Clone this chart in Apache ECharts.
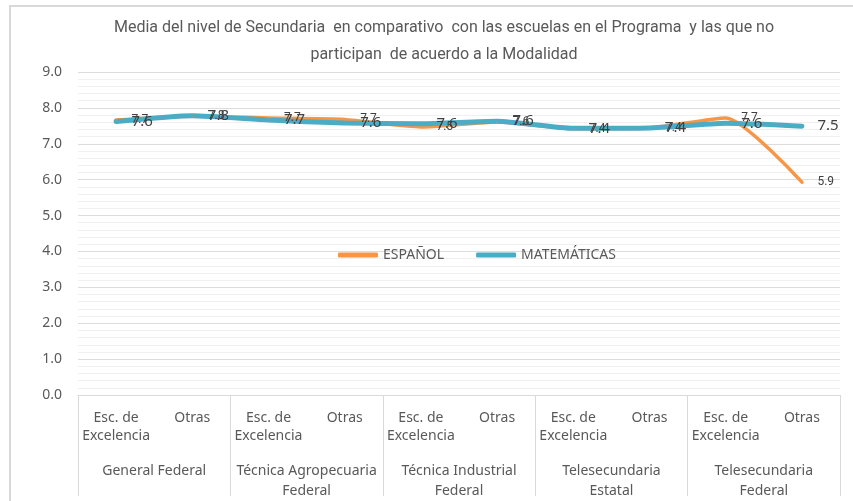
<!DOCTYPE html>
<html lang="es">
<head>
<meta charset="UTF-8">
<title>Media del nivel de Secundaria</title>
<script src="https://cdn.jsdelivr.net/npm/echarts@6/dist/echarts.min.js"></script>
<style>
  html, body { margin: 0; padding: 0; background: #fff; }
  #main { width: 853px; height: 501px; }
</style>
</head>
<body>
<div id="main"></div>
<script type="text/javascript">
// datos
var tipos = ['Esc. de\nExcelencia', 'Otras', 'Esc. de\nExcelencia', 'Otras', 'Esc. de\nExcelencia', 'Otras',
             'Esc. de\nExcelencia', 'Otras', 'Esc. de\nExcelencia', 'Otras'];
var modalidades = ['General Federal', 'Técnica Agropecuaria\nFederal', 'Técnica Industrial\nFederal',
                   'Telesecundaria\nEstatal', 'Telesecundaria\nFederal'];
var espanol = [7.66, 7.77, 7.72, 7.68, 7.47, 7.61, 7.42, 7.44, 7.72, 5.93];
var matematicas = [7.62, 7.78, 7.66, 7.58, 7.56, 7.63, 7.43, 7.44, 7.57, 7.49];

var gris = '#595959';
var narrow = "Roboto, sans-serif";

var myChart = echarts.init(document.getElementById('main'));

var option = {
    animation: false,
    title: {
        text: 'Media del nivel de Secundaria  en comparativo  con las escuelas en el Programa  y las que no\nparticipan  de acuerdo a la Modalidad',
        left: 439,
        top: 9,
        textAlign: 'center',
        textStyle: { fontFamily: narrow, fontSize: 16, fontWeight: 'normal', color: gris, lineHeight: 27 }
    },
    legend: {
        data: ['ESPAÑOL', 'MATEMÁTICAS'],
        left: 333,
        top: 243,
        icon: 'roundRect',
        itemWidth: 40,
        itemHeight: 5,
        itemGap: 32,
        textStyle: { fontFamily: 'Noto Sans', fontSize: 14, color: gris }
    },
    grid: { left: 78, right: 13, top: 72, bottom: 101 },
    xAxis: [
        {
            type: 'category',
            data: tipos,
            boundaryGap: true,
            axisLine: { lineStyle: { color: '#d9d9d9', width: 1 } },
            axisTick: { show: false },
            axisLabel: { interval: 0, margin: 14, lineHeight: 18, fontFamily: 'Noto Sans', fontSize: 14, color: gris }
        },
        {
            type: 'category',
            data: modalidades,
            position: 'bottom',
            boundaryGap: true,
            axisLine: { show: false },
            axisTick: { show: true, length: 101, lineStyle: { color: '#d9d9d9' } },
            axisLabel: { interval: 0, margin: 66, lineHeight: 20, fontFamily: 'Noto Sans', fontSize: 14, color: gris }
        }
    ],
    yAxis: {
        type: 'value',
        min: 0,
        max: 9,
        interval: 1,
        axisLine: { show: false },
        axisTick: { show: false },
        axisLabel: {
            margin: 16,
            fontFamily: 'Noto Sans', fontSize: 14, color: gris,
            formatter: function (v) { return v.toFixed(1); }
        },
        splitLine: { lineStyle: { color: '#dcdcdc', width: 1 } },
        minorTick: { show: false, splitNumber: 5 },
        minorSplitLine: { show: true, lineStyle: { color: '#f0f0f0', width: 1 } }
    },
    series: [
        {
            name: 'ESPAÑOL',
            type: 'line',
            data: espanol,
            smooth: 0.2,
            symbol: 'circle',
            symbolSize: 1,
            itemStyle: { color: '#f79646' },
            lineStyle: { color: '#f79646', width: 3.5, cap: 'round' },
            label: {
                show: true, position: 'right', distance: 15,
                fontFamily: narrow, fontSize: 12, color: '#404040',
                formatter: function (p) { return p.value.toFixed(1); }
            }
        },
        {
            name: 'MATEMÁTICAS',
            type: 'line',
            data: matematicas,
            smooth: 0.2,
            symbol: 'circle',
            symbolSize: 1,
            itemStyle: { color: '#4bacc6' },
            lineStyle: { color: '#4bacc6', width: 5, cap: 'round' },
            label: {
                show: true, position: 'right', distance: 15,
                fontFamily: 'Noto Sans', fontSize: 15, color: '#404040',
                formatter: function (p) { return p.value.toFixed(1); }
            }
        }
    ],
    graphic: [
        {
            type: 'rect',
            silent: true,
            shape: { x: 10, y: 6, width: 900, height: 600 },
            style: { fill: 'none', stroke: '#d9d9d9', lineWidth: 2 }
        }
    ]
};

myChart.setOption(option);
</script>
</body>
</html>
